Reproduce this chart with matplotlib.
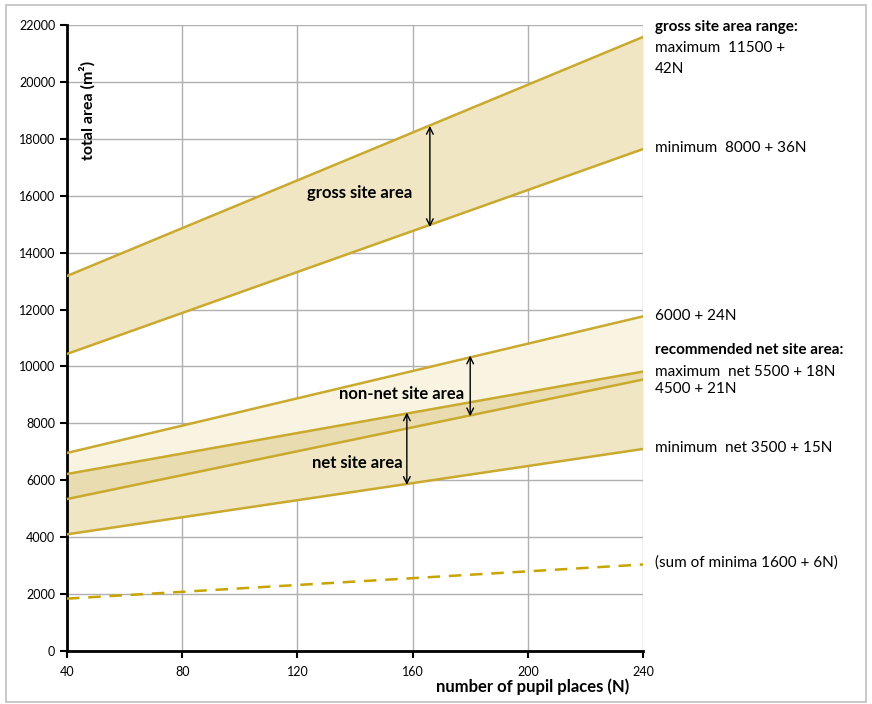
import matplotlib
matplotlib.use("Agg")
import matplotlib.pyplot as plt
from matplotlib.patches import Rectangle

plt.rcParams['font.family'] = ['Lato', 'DejaVu Sans']

# data (values read at the x tick positions)
N = [40, 80, 120, 160, 200, 240]
gross_max = [13180, 14860, 16540, 18220, 19900, 21580]
gross_min = [10440, 11880, 13320, 14760, 16200, 17640]
nonnet_top = [6960, 7920, 8880, 9840, 10800, 11760]
net_max = [6220, 6940, 7660, 8380, 9100, 9820]
net_mid = [5340, 6180, 7020, 7860, 8700, 9540]
net_min = [4100, 4700, 5300, 5900, 6500, 7100]
sum_minima = [1840, 2080, 2320, 2560, 2800, 3040]

x_ticks = [40, 80, 120, 160, 200, 240]
y_ticks = list(range(0, 22001, 2000))

line_c = '#c9a92e'
fig = plt.figure(figsize=(8.72, 7.04), dpi=100)
fig.patches.append(Rectangle((6/872, 2/704), 860/872, 697/704, transform=fig.transFigure,
                             fill=False, edgecolor='#bfbfbf', lw=1.2))
ax = fig.add_axes([67/872, 1-651/704, 576/872, 626/704])

ax.fill_between(N, gross_min, gross_max, color='#f0e6c4', lw=0, zorder=1)
ax.fill_between(N, net_max, nonnet_top, color='#f9f4e2', lw=0, zorder=1)
ax.fill_between(N, net_mid, net_max, color='#e8dcb0', lw=0, zorder=1)
ax.fill_between(N, net_min, net_mid, color='#f0e6c4', lw=0, zorder=1)

for s in [gross_max, gross_min, nonnet_top, net_max, net_mid, net_min]:
    ax.plot(N, s, color=line_c, lw=1.8, zorder=3)
ax.plot(N, sum_minima, color='#c8a400', lw=1.8, ls=(0, (5, 3.5)), zorder=3)

ax.set_xlim(40, 240)
ax.set_ylim(0, 22000)
ax.set_xticks(x_ticks)
ax.set_yticks(y_ticks)
ax.grid(True, color='#b0b0b0', lw=1, zorder=0)
ax.set_axisbelow(True)
for sp in ['top', 'right']:
    ax.spines[sp].set_visible(False)
for sp in ['left', 'bottom']:
    ax.spines[sp].set_linewidth(2)
    ax.spines[sp].set_color('black')
ax.tick_params(axis='both', direction='out', length=5, width=1.5, labelsize=9, color='black')
ax.tick_params(axis='x', pad=6)

# axis labels
ax.text(0.035, 0.864, 'total area (m²)', transform=ax.transAxes, rotation=90,
        ha='center', va='center', fontsize=11.5, fontweight='bold')
fig.text(533/872, 1-687/704, 'number of pupil places (N)', ha='center', va='center',
         fontsize=12, fontweight='bold')

# in-chart labels
ax.text(141.7, 16105, 'gross site area', ha='center', va='center', fontsize=12, fontweight='bold')
ax.text(156.1, 9018, 'non-net site area', ha='center', va='center', fontsize=12, fontweight='bold')
ax.text(140.7, 6596, 'net site area', ha='center', va='center', fontsize=12, fontweight='bold')

arr = dict(arrowstyle='<->', color='black', lw=1, mutation_scale=12, shrinkA=0, shrinkB=0)
ax.annotate('', xy=(166, 14900), xytext=(166, 18450), arrowprops=arr)
ax.annotate('', xy=(180, 8250), xytext=(180, 10380), arrowprops=arr)
ax.annotate('', xy=(158, 5840), xytext=(158, 8380), arrowprops=arr)

# right labels
rx = 655/872
def rt(y, s, bold=False):
    fig.text(rx, 1-y/704, s, ha='left', va='center', fontsize=11,
             fontweight='bold' if bold else 'normal')
rt(27, 'gross site area range:', True)
rt(48, 'maximum  11500 +')
rt(69, '42N')
rt(148, 'minimum  8000 + 36N')
rt(316, '6000 + 24N')
rt(350, 'recommended net site area:', True)
rt(372, 'maximum  net 5500 + 18N')
rt(389, '4500 + 21N')
rt(448, 'minimum  net 3500 + 15N')
rt(563, '(sum of minima 1600 + 6N)')

fig.savefig('out.png', dpi=100)
